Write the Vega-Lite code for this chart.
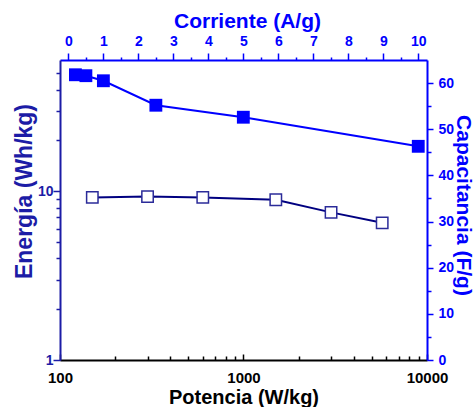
{
  "$schema": "https://vega.github.io/schema/vega-lite/v6.json",
  "width": 367,
  "height": 300,
  "autosize": "none",
  "padding": {"left": 60, "top": 60, "right": 48, "bottom": 47},
  "background": "white",
  "config": {
    "view": {"stroke": null},
    "axis": {"grid": false, "labelFont": "Liberation Sans", "titleFont": "Liberation Sans", "labelFontWeight": "bold", "titleFontWeight": "bold", "labelOverlap": false, "labelFlush": false}
  },
  "datasets": {
    "energy": [
      {"power": 150, "energy": 9.2},
      {"power": 300, "energy": 9.3},
      {"power": 600, "energy": 9.2},
      {"power": 1500, "energy": 8.9},
      {"power": 3000, "energy": 7.5},
      {"power": 5700, "energy": 6.5}
    ],
    "cap": [
      {"current": 0.2, "cap": 61.8},
      {"current": 0.5, "cap": 61.6},
      {"current": 1, "cap": 60.5},
      {"current": 2.5, "cap": 55.2},
      {"current": 5, "cap": 52.6},
      {"current": 10, "cap": 46.3}
    ]
  },
  "layer": [
    {
      "data": {"name": "energy"},
      "layer": [
        {
          "mark": {"type": "line", "color": "#000080", "strokeWidth": 2},
          "encoding": {
            "x": {"field": "power", "type": "quantitative", "scale": {"type": "log", "domain": [100, 10000], "nice": false},
              "axis": {"orient": "bottom", "values": [100, 1000, 10000], "format": "d", "ticks": false, "domainColor": "black", "domainWidth": 2, "labelColor": "black", "labelFontSize": 15, "labelBaseline": "alphabetic", "labelPadding": 22, "title": "Potencia (W/kg)", "titleColor": "black", "titleFontSize": 20, "titleBaseline": "alphabetic", "titleY": 43}},
            "y": {"field": "energy", "type": "quantitative", "scale": {"type": "log", "domain": [1, 60], "nice": false},
              "axis": {"orient": "left", "values": [1, 10], "format": "d", "ticks": false, "domainColor": "#1c1ca6", "domainWidth": 2, "labelColor": "#1c1ca6", "labelFontSize": 14, "labelPadding": 7, "title": "Energía (Wh/kg)", "titleColor": "#1c1ca6", "titleFontSize": 23, "titleBaseline": "alphabetic", "titleX": -29, "titleY": 131}}
          }
        },
        {
          "mark": {"type": "point", "shape": "square", "filled": true, "fill": "white", "stroke": "#2b2b99", "strokeWidth": 1.5, "size": 130, "opacity": 1},
          "encoding": {
            "x": {"field": "power", "type": "quantitative", "axis": null},
            "y": {"field": "energy", "type": "quantitative", "axis": null}
          }
        },
        {
          "mark": {"type": "point", "opacity": 0},
          "encoding": {
            "x": {"field": "power", "type": "quantitative", "axis": {"orient": "bottom", "values": [100, 1000, 10000], "labels": false, "domain": false, "title": null, "tickSize": -6, "tickWidth": 1.5, "tickColor": "black"}},
            "y": {"field": "energy", "type": "quantitative", "axis": {"orient": "left", "values": [1, 10], "labels": false, "domain": false, "title": null, "tickSize": 7, "tickWidth": 1.5, "tickColor": "#1c1ca6"}}
          }
        },
        {
          "mark": {"type": "point", "opacity": 0},
          "encoding": {
            "x": {"field": "power", "type": "quantitative", "axis": {"orient": "bottom", "values": [200, 300, 400, 500, 600, 700, 800, 900, 2000, 3000, 4000, 5000, 6000, 7000, 8000, 9000], "labels": false, "domain": false, "title": null, "tickSize": -4, "tickWidth": 1.5, "tickColor": "black"}},
            "y": {"field": "energy", "type": "quantitative", "axis": {"orient": "left", "values": [2, 3, 4, 5, 6, 7, 8, 9, 20, 30, 40, 50], "labels": false, "domain": false, "title": null, "tickSize": 4, "tickWidth": 1.5, "tickColor": "#1c1ca6"}}
          }
        }
      ],
      "resolve": {"axis": {"x": "independent", "y": "independent"}}
    },
    {
      "data": {"name": "cap"},
      "layer": [
        {
          "mark": {"type": "line", "color": "#0000ff", "strokeWidth": 2},
          "encoding": {
            "x": {"field": "current", "type": "quantitative", "scale": {"domain": [-0.24, 10.25], "nice": false, "zero": false},
              "axis": {"orient": "top", "values": [0, 1, 2, 3, 4, 5, 6, 7, 8, 9, 10], "ticks": false, "domainColor": "#0000ff", "domainWidth": 2, "labelColor": "#0000ff", "labelFontSize": 14, "labelBaseline": "alphabetic", "labelPadding": 15, "title": "Corriente (A/g)", "titleColor": "#0000ff", "titleFontSize": 21, "titleBaseline": "alphabetic", "titleY": -33, "titleX": 187}},
            "y": {"field": "cap", "type": "quantitative", "scale": {"domain": [0, 65], "nice": false, "zero": false},
              "axis": {"orient": "right", "values": [0, 10, 20, 30, 40, 50, 60], "ticks": false, "domainColor": "#0000ff", "domainWidth": 2, "labelColor": "#0000ff", "labelFontSize": 14, "labelPadding": 11, "title": "Capacitancia (F/g)", "titleColor": "#0000ff", "titleFontSize": 21, "titleBaseline": "alphabetic", "titleX": 29, "titleY": 145}}
          }
        },
        {
          "mark": {"type": "point", "shape": "square", "filled": true, "color": "#0000ff", "size": 165, "opacity": 1},
          "encoding": {
            "x": {"field": "current", "type": "quantitative", "axis": null},
            "y": {"field": "cap", "type": "quantitative", "axis": null}
          }
        },
        {
          "mark": {"type": "point", "opacity": 0},
          "encoding": {
            "x": {"field": "current", "type": "quantitative", "axis": {"orient": "top", "values": [0, 1, 2, 3, 4, 5, 6, 7, 8, 9, 10], "labels": false, "domain": false, "title": null, "tickSize": 7, "tickWidth": 1.5, "tickColor": "#0000ff"}},
            "y": {"field": "cap", "type": "quantitative", "axis": {"orient": "right", "values": [0, 10, 20, 30, 40, 50, 60], "labels": false, "domain": false, "title": null, "tickSize": 6, "tickWidth": 1.5, "tickColor": "#0000ff"}}
          }
        },
        {
          "mark": {"type": "point", "opacity": 0},
          "encoding": {
            "x": {"field": "current", "type": "quantitative", "axis": {"orient": "top", "values": [0.5, 1.5, 2.5, 3.5, 4.5, 5.5, 6.5, 7.5, 8.5, 9.5], "labels": false, "domain": false, "title": null, "tickSize": 3, "tickWidth": 1.5, "tickColor": "#0000ff"}},
            "y": {"field": "cap", "type": "quantitative", "axis": {"orient": "right", "values": [5, 15, 25, 35, 45, 55], "labels": false, "domain": false, "title": null, "tickSize": 4, "tickWidth": 1.5, "tickColor": "#0000ff"}}
          }
        }
      ],
      "resolve": {"axis": {"x": "independent", "y": "independent"}}
    }
  ],
  "resolve": {"scale": {"x": "independent", "y": "independent"}}
}
